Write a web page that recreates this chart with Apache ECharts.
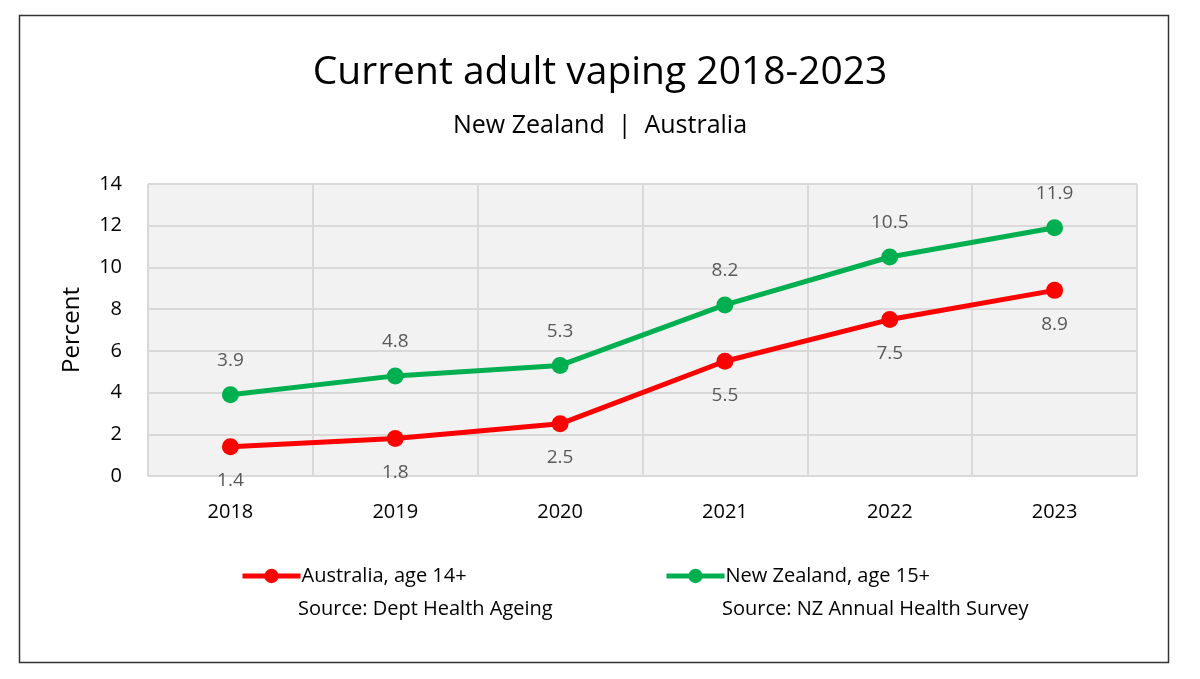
<!DOCTYPE html>
<html>
<head>
<meta charset="utf-8">
<script src="https://cdn.jsdelivr.net/npm/echarts@6/dist/echarts.min.js"></script>
<style>
html, body { margin: 0; padding: 0; background: #fff; }
#chart { width: 1200px; height: 679px; }
</style>
</head>
<body>
<div id="chart"></div>
<script>
var years = ['2018', '2019', '2020', '2021', '2022', '2023'];
var australia = [1.4, 1.8, 2.5, 5.5, 7.5, 8.9];
var newZealand = [3.9, 4.8, 5.3, 8.2, 10.5, 11.9];

var font = 'Open Sans, Noto Sans, sans-serif';
var myChart = echarts.init(document.getElementById('chart'));

var legendBase = {
    top: 566,
    itemWidth: 58,
    itemHeight: 18,
    padding: 0,
    lineStyle: { width: 5 },
    textStyle: { fontFamily: font, fontSize: 20, color: '#000', padding: [0, 0, 0, -4] }
};

var options = {
    backgroundColor: '#ffffff',
    title: [{
        text: 'Current adult vaping 2018-2023',
        left: 'center', top: 48,
        textStyle: { fontFamily: font, fontSize: 39, fontWeight: 'normal', color: '#000' }
    }, {
        text: 'New Zealand  |  Australia',
        left: 'center', top: 108,
        textStyle: { fontFamily: font, fontSize: 25, fontWeight: 'normal', color: '#000' }
    }],
    grid: { left: 148, right: 63, top: 184, bottom: 203, backgroundColor: '#f2f2f2', show: true, borderWidth: 0 },
    legend: [
        Object.assign({}, legendBase, { left: 240, data: ['Australia, age 14+'] }),
        Object.assign({}, legendBase, { left: 664, data: ['New Zealand, age 15+'] })
    ],
    xAxis: {
        type: 'category',
        data: years,
        axisLine: { lineStyle: { color: '#d9d9d9' } },
        axisTick: { show: false },
        splitLine: { show: true, lineStyle: { color: '#d9d9d9', width: 2 } },
        axisLabel: { fontFamily: font, fontSize: 20, color: '#000', margin: 26 }
    },
    yAxis: {
        type: 'value', min: 0, max: 14, interval: 2,
        name: 'Percent', nameLocation: 'middle', nameGap: 64, nameRotate: 90,
        nameTextStyle: { fontFamily: font, fontSize: 24, color: '#000', fontWeight: 500 },
        axisLine: { show: false },
        axisTick: { show: false },
        splitLine: { lineStyle: { color: '#d9d9d9', width: 2 } },
        axisLabel: { fontFamily: font, fontSize: 20, color: '#000', margin: 26 }
    },
    series: [{
        name: 'Australia, age 14+',
        type: 'line',
        data: australia,
        color: '#ff0000',
        symbol: 'circle', symbolSize: 17,
        lineStyle: { width: 5 },
        label: { show: true, position: 'bottom', distance: 16, fontFamily: font, fontSize: 19, color: '#595959' }
    }, {
        name: 'New Zealand, age 15+',
        type: 'line',
        data: newZealand,
        color: '#00b050',
        symbol: 'circle', symbolSize: 17,
        lineStyle: { width: 5 },
        label: { show: true, position: 'top', distance: 16, fontFamily: font, fontSize: 19, color: '#595959' }
    }],
    graphic: [{
        type: 'rect', left: 17, top: 13,
        shape: { width: 1149, height: 647 },
        style: { fill: 'none', stroke: '#333', lineWidth: 1.5 }
    }, {
        type: 'text', left: 298, top: 599,
        style: { text: 'Source: Dept Health Ageing', fontFamily: font, fontSize: 20, fill: '#000' }
    }, {
        type: 'text', left: 722, top: 599,
        style: { text: 'Source: NZ Annual Health Survey', fontFamily: font, fontSize: 20, fill: '#000' }
    }]
};

myChart.setOption(options);
</script>
</body>
</html>
